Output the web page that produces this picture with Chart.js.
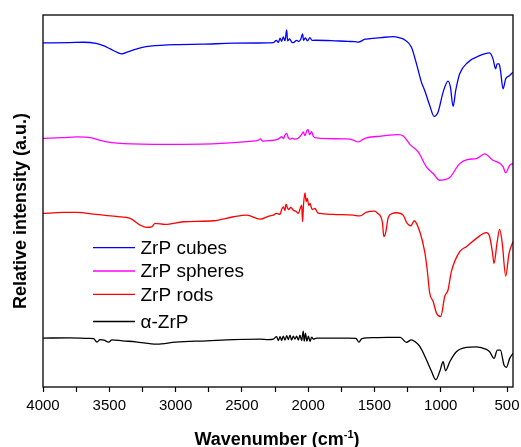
<!DOCTYPE html>
<html lang="en">
<head>
<meta charset="UTF-8">
<title>FTIR spectra of ZrP</title>
<script src="https://cdn.jsdelivr.net/npm/chart.js"></script>
<style>
    body { margin: 0; background: white; }
    .chart-container { width: 521px; height: 447px; }
</style>
</head>
<body>
<div class="chart-container"><canvas id="ftirChart"></canvas></div>
<script>
// wavenumber (cm-1) and relative intensity (a.u., traces offset)
const cubesWn = [4000, 3800, 3694, 3600, 3540, 3493, 3440, 3405, 3360, 3317, 3250, 3192, 2991, 2800, 2564, 2313,
    2263, 2240, 2225, 2212, 2200, 2188, 2175, 2162, 2155, 2140, 2125, 2112, 2087, 2070, 2055, 2042, 2035, 2020, 2005,
    1987, 1970, 1949, 1823, 1700, 1647, 1622, 1571, 1535, 1450, 1359, 1309, 1271, 1221, 1183, 1146, 1121, 1083, 1050,
    1020, 982, 945, 927, 907, 887, 857, 794, 706, 631, 606, 586, 575, 560, 550, 530, 510, 480, 455];
const cubesI = [345, 345.3, 345.7, 344.5, 342, 339, 335.5, 334, 336, 338, 340.5, 341.7, 343.3, 343.7, 344.7, 345,
    345.3, 347.5, 345.5, 349.7, 346.5, 351, 347, 358, 347, 349, 346, 345.3, 347.5, 346.5, 349, 354, 347.7, 350, 347,
    350.3, 347.5, 347.7, 347.3, 346.5, 346.3, 345.8, 348.7, 349.2, 350.3, 351.3, 350, 348, 340.7, 324, 305.7, 297.3, 282.3, 271.3,
    275.7, 295.7, 306.7, 300.7, 281.3, 297.3, 314, 325.7, 332.3, 335, 329, 319, 324, 324, 318, 299, 309, 312.3, 315.7];

const spheresWn = [4000, 3850, 3744, 3643, 3568, 3480, 3392, 3066, 2689, 2438, 2375, 2363, 2340, 2290, 2237, 2215,
    2200, 2185, 2175, 2162, 2150, 2137, 2120, 2100, 2070, 2050, 2037, 2025, 2010, 2000, 1990, 1974, 1960, 1937, 1850,
    1710, 1660, 1622, 1590, 1560, 1450, 1320, 1280, 1233, 1170, 1108, 1057, 1007, 970, 932, 857, 794, 731, 668, 606,
    560, 530, 510, 480, 455];
const spheresI = [249.3, 250, 250.7, 250, 247.3, 245, 244, 243.3, 244, 246.3, 247.5, 248.7, 246.5, 247, 248, 249.5,
    251, 249, 252.5, 254.3, 250, 248.5, 249.5, 248.5, 250, 253, 255.7, 252, 257, 258, 253, 256, 251, 249.7, 249,
    248.7, 247.5, 245.7, 248, 249.7, 251.5, 253, 251.5, 243.3, 235.7, 220.7, 214, 207.3, 208, 210, 224, 228.3, 229, 233.7, 227.3,
    224.7, 221, 214.7, 222.3, 224];

const rodsWn = [4000, 3850, 3744, 3600, 3450, 3342, 3267, 3217, 3180, 3154, 3079, 2941, 2714, 2563, 2463, 2364,
    2289, 2263, 2240, 2212, 2200, 2187, 2175, 2167, 2150, 2130, 2112, 2090, 2074, 2060, 2049, 2042, 2035, 2024, 2015,
    2007, 1995, 1986, 1970, 1949, 1930, 1911, 1811, 1660, 1610, 1560, 1497, 1475, 1459, 1440, 1429, 1415, 1396, 1365,
    1334, 1284, 1253, 1225, 1200, 1158, 1121, 1102, 1083, 1057, 1032, 1000, 970, 945, 920, 857, 807, 731, 656, 631,
    610, 598, 576, 556, 536, 510, 485, 455];
const rodsI = [174, 175, 175, 173, 171, 169, 162.3, 160, 160.5, 164, 163, 165.7, 166.7, 170.7, 172.3, 168.3,
    171.7, 172.3, 174, 173, 178, 180.7, 177, 183.3, 178, 180, 177.3, 176, 174, 179, 182.3, 165.7, 183, 194.7, 186,
    189, 182, 184, 178, 179, 175, 174, 173, 172.3, 171.5, 175.3, 176.3, 174, 172.3, 165, 150.7, 155, 170, 174,
    174.7, 172.3, 164, 161.7, 166.7, 155.7, 135.7, 117.3, 94, 85.7, 74, 70.7, 90.7, 97.3, 115.7, 135.7, 140.7, 149, 154.7, 150.7,
    135, 124, 144, 158, 144, 111.3, 134, 145.7];

const alphaWn = [4000, 3800, 3650, 3618, 3593, 3570, 3540, 3505, 3480, 3400, 3300, 3141, 3000, 2765, 2563, 2363,
    2300, 2263, 2238, 2225, 2212, 2200, 2188, 2175, 2162, 2150, 2137, 2125, 2112, 2100, 2087, 2074, 2062, 2049, 2037,
    2030, 2020, 2010, 1998, 1986, 1974, 1960, 1936, 1811, 1700, 1640, 1617, 1595, 1500, 1400, 1305, 1259, 1221, 1190,
    1158, 1108, 1070, 1037, 1007, 982, 964, 932, 882, 807, 731, 656, 631, 598, 573, 550, 523, 505, 480, 455];
const alphaI = [49, 49.3, 48.7, 48.5, 45, 47.5, 47, 45, 47.3, 46.3, 45.3, 43, 45, 46.3, 47.5, 48,
    47.5, 48, 50.5, 46.5, 50.5, 46.7, 51, 47, 51.5, 47.5, 52, 47, 51, 48, 51, 47, 52, 46.5, 56,
    46, 54, 46, 51, 45.7, 50, 48, 49, 49, 49, 48.7, 45, 48.5, 49.5, 49.7, 49.7, 44.7, 47.3, 45,
    40.7, 27.3, 15.7, 7.3, 15.7, 25.3, 16.3, 25.3, 35.3, 39.7, 40.3, 37.7, 35.3, 28.7, 37, 37, 22, 19.7, 28.7, 33.7];

const seriesNames = ['ZrP cubes', 'ZrP spheres', 'ZrP rods', 'α-ZrP'];
const seriesColors = ['#0000ff', '#ff00ff', '#ff0000', '#000000'];
const xTicks = [4000, 3500, 3000, 2500, 2000, 1500, 1000, 500];
const xMinorTicks = [3750, 3250, 2750, 2250, 1750, 1250, 750];

function toPoints(wn, ys) {
    return wn.map((w, i) => ({ x: w, y: ys[i] }));
}

const allSeries = [[cubesWn, cubesI], [spheresWn, spheresI], [rodsWn, rodsI], [alphaWn, alphaI]];

const datasets = allSeries.map((s, i) => ({
    label: seriesNames[i],
    data: toPoints(s[0], s[1]),
    borderColor: seriesColors[i],
    borderWidth: 1.3,
    pointRadius: 0,
    fill: false,
    cubicInterpolationMode: 'monotone'
}));

// frame, axis titles and the in-plot legend
const decorPlugin = {
    id: 'decor',
    afterDraw(chart) {
        const ctx = chart.ctx;
        const a = chart.chartArea;
        ctx.save();
        ctx.strokeStyle = 'black';
        ctx.lineWidth = 1.3;
        ctx.strokeRect(a.left, a.top, a.right - a.left, a.bottom - a.top);

        // x title with superscript
        ctx.fillStyle = 'black';
        ctx.textBaseline = 'alphabetic';
        const main = 'Wavenumber (cm';
        const sup = '-1';
        const close = ')';
        ctx.font = 'bold 18px Arial, "Liberation Sans", sans-serif';
        const wMain = ctx.measureText(main).width;
        const wClose = ctx.measureText(close).width;
        ctx.font = 'bold 11px Arial, "Liberation Sans", sans-serif';
        const wSup = ctx.measureText(sup).width;
        const total = wMain + wSup + wClose;
        let x0 = 277 - total / 2;
        const base = 444.5;
        ctx.font = 'bold 18px Arial, "Liberation Sans", sans-serif';
        ctx.textAlign = 'left';
        ctx.fillText(main, x0, base);
        ctx.font = 'bold 11px Arial, "Liberation Sans", sans-serif';
        ctx.fillText(sup, x0 + wMain, base - 7);
        ctx.font = 'bold 18px Arial, "Liberation Sans", sans-serif';
        ctx.fillText(close, x0 + wMain + wSup, base);

        // y title
        ctx.save();
        ctx.translate(21, (a.top + a.bottom) / 2 + 10);
        ctx.rotate(-Math.PI / 2);
        ctx.textAlign = 'center';
        ctx.textBaseline = 'middle';
        ctx.font = 'bold 18px Arial, "Liberation Sans", sans-serif';
        ctx.fillText('Relative intensity (a.u.)', 0, 0);
        ctx.restore();

        // legend
        const rowY = [247.7, 271, 294.3, 321.5];
        ctx.font = '19px Arial, "Liberation Sans", sans-serif';
        ctx.textAlign = 'left';
        ctx.textBaseline = 'middle';
        chart.data.datasets.forEach((ds, i) => {
            ctx.strokeStyle = ds.borderColor;
            ctx.lineWidth = 1.3;
            ctx.beginPath();
            ctx.moveTo(a.left + 50, rowY[i]);
            ctx.lineTo(a.left + 92, rowY[i]);
            ctx.stroke();
            ctx.fillStyle = 'black';
            ctx.fillText(ds.label, a.left + 97.5, rowY[i] + 1);
        });
        ctx.restore();
    }
};

new Chart(document.getElementById('ftirChart'), {
    type: 'line',
    data: { datasets: datasets },
    options: {
        responsive: true,
        maintainAspectRatio: false,
        animation: false,
        layout: { padding: { left: 43, right: 8, top: 15, bottom: 0 } },
        plugins: {
            legend: { display: false },
            tooltip: { enabled: false }
        },
        scales: {
            x: {
                type: 'linear',
                reverse: true,
                min: 455,
                max: 4000,
                border: { display: false },
                grid: {
                    drawOnChartArea: false,
                    tickLength: 5,
                    color: 'black',
                    tickColor: 'black',
                    tickWidth: 1.2
                },
                ticks: {
                    autoSkip: false,
                    maxRotation: 0,
                    padding: 5,
                    color: 'black',
                    font: { family: 'Arial, "Liberation Sans", sans-serif', size: 15 },
                    callback: v => xTicks.includes(v) ? String(v) : ''
                },
                afterBuildTicks: scale => {
                    scale.ticks = xTicks.concat(xMinorTicks)
                        .sort((p, q) => q - p)
                        .map(v => ({ value: v }));
                },
                afterFit: scale => {
                    scale.height = 60;
                    scale.paddingLeft = 0;
                    scale.paddingRight = 0;
                }
            },
            y: {
                display: false,
                min: 0,
                max: 373
            }
        }
    },
    plugins: [decorPlugin]
});
</script>
</body>
</html>
